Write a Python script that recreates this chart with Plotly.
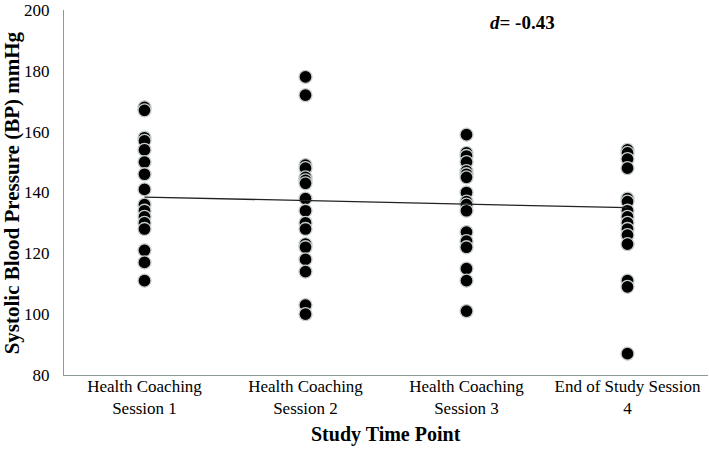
import plotly.graph_objects as go

# time points (category labels on the x axis)
time_points = ['Health Coaching<br>Session 1', 'Health Coaching<br>Session 2',
               'Health Coaching<br>Session 3', 'End of Study Session<br>4']

# systolic BP readings per time point (mmHg)
session_1 = [168, 167, 158, 157, 154, 150, 146, 141, 136, 134, 132, 130, 128, 121, 117, 111]
session_2 = [178, 172, 149, 148, 145, 144, 143, 138, 134, 130, 128, 123, 122, 118, 114, 103, 100]
session_3 = [159, 153, 152, 150, 147, 146, 145, 140, 137, 136, 134, 127, 124, 122, 115, 111, 101]
session_4 = [154, 153, 151, 148, 138, 137, 134, 132, 130, 128, 126, 123, 111, 109, 87]

# linear trendline values at first and last time point
trend_x = [1, 4]
trend_y = [138.5, 135.0]

effect_label = '<b><i>d</i>= -0.43</b>'

FONT = 'Liberation Serif'
AXIS_COLOR = '#8c9a9a'

fig = go.Figure()

for i, vals in enumerate([session_1, session_2, session_3, session_4]):
    fig.add_trace(go.Scatter(
        x=[i + 1] * len(vals), y=vals, mode='markers',
        marker=dict(size=13, color='black', line=dict(width=1.3, color='#c5cdcd')),
        showlegend=False, hoverinfo='y'))

# trendline
fig.add_trace(go.Scatter(x=trend_x, y=trend_y, mode='lines',
                         line=dict(color='#222222', width=1.3),
                         showlegend=False, hoverinfo='skip'))

fig.update_layout(
    width=709, height=454,
    margin=dict(l=64, r=1, t=6, b=79),
    paper_bgcolor='white', plot_bgcolor='white',
    font=dict(family=FONT, size=17, color='black'),
    showlegend=False,
)

fig.update_xaxes(
    range=[0.5, 4.5], tickvals=[1, 2, 3, 4], ticktext=time_points,
    showline=True, linecolor=AXIS_COLOR, linewidth=1.3,
    showgrid=False, zeroline=False, ticks='', ticklabelstandoff=-5,
    ticklabeloverflow='allow',
    tickfont=dict(family=FONT, size=17, color='black'),
)
fig.update_yaxes(
    range=[80, 200], dtick=20,
    showline=True, linecolor=AXIS_COLOR, linewidth=1.3,
    showgrid=False, zeroline=False, ticks='', ticklabelstandoff=10,
    ticklabeloverflow='allow',
    tickfont=dict(family=FONT, size=17, color='black'),
)

# axis titles and effect size label
fig.add_annotation(text='<b>Study Time Point</b>', xref='paper', yref='paper',
                   x=0.5, y=-0.163, xanchor='center', yanchor='middle', showarrow=False,
                   font=dict(family=FONT, size=20, color='black'))
fig.add_annotation(text='<b>Systolic Blood Pressure (BP) mmHg</b>', xref='paper', yref='paper',
                   x=-0.081, y=0.5, xanchor='center', yanchor='middle', textangle=-90,
                   showarrow=False, font=dict(family=FONT, size=21, color='black'))
fig.add_annotation(text=effect_label, x=3.345, y=196, xanchor='center', yanchor='middle',
                   showarrow=False, font=dict(family=FONT, size=19, color='black'))

# drop the default page margin so the figure sits at the window's corner
fig.write_html('out.html', config={'displayModeBar': False},
               post_script="document.body.style.margin='0';")
